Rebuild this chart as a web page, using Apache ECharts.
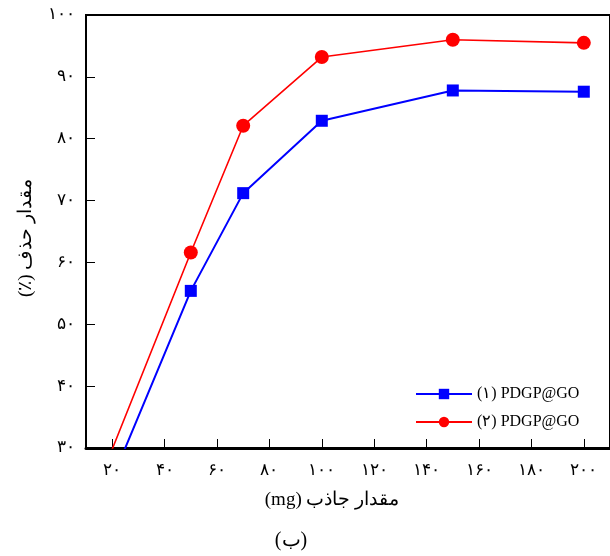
<!DOCTYPE html>
<html>
<head>
<meta charset="utf-8">
<script src="https://cdn.jsdelivr.net/npm/echarts@6/dist/echarts.min.js"></script>
<style>
  html, body { margin: 0; padding: 0; background: #fff; }
  #chart { width: 610px; height: 556px; }
</style>
</head>
<body>
<div id="chart"></div>
<script>
// Adsorbent dosage (mg) and removal efficiency (%) for the two PDGP@GO samples
const dosage = [10, 50, 70, 100, 150, 200];
const removal1 = [14.8, 55.4, 71.2, 82.9, 87.8, 87.6];
const removal2 = [19.2, 61.6, 82.1, 93.2, 96.0, 95.5];
const seriesNames = ['(۱) PDGP@GO', '(۲) PDGP@GO'];
const xTickValues = [20, 40, 60, 80, 100, 120, 140, 160, 180, 200];
const yTickValues = [30, 40, 50, 60, 70, 80, 90, 100];

const persianDigits = '۰۱۲۳۴۵۶۷۸۹';
const toPersian = v => String(v).replace(/[0-9]/g, d => persianDigits[+d]);
// right-to-left embedding so that Persian titles keep their parentheses on the correct side
const rtl = s => '\u202B' + s + '\u202C';

const serif = "'Liberation Serif', 'DejaVu Serif', 'Times New Roman', serif";

const chart = echarts.init(document.getElementById('chart'));
chart.setOption({
  animation: false,
  backgroundColor: '#fff',
  grid: {
    left: 86, right: -5, top: 15, bottom: 108,
    show: true, borderColor: '#000', borderWidth: 2, backgroundColor: 'transparent'
  },
  xAxis: {
    type: 'value', min: 10, max: 210,
    axisLine: { show: true, lineStyle: { color: '#000', width: 3 } },
    axisTick: { show: true, inside: true, length: 9, customValues: xTickValues,
                lineStyle: { color: '#000', width: 1 } },
    axisLabel: { customValues: xTickValues, margin: 14, color: '#000',
                 fontFamily: serif, fontSize: 17, formatter: v => toPersian(v) },
    splitLine: { show: false }
  },
  yAxis: {
    type: 'value', min: 30, max: 100, interval: 10,
    axisLine: { show: true, lineStyle: { color: '#000', width: 2 } },
    axisTick: { show: true, inside: true, length: 9, lineStyle: { color: '#000', width: 1 } },
    axisLabel: { margin: 11, color: '#000', fontFamily: serif, fontSize: 17,
                 formatter: v => yTickValues.includes(v) ? toPersian(v) : '' },
    splitLine: { show: false }
  },
  legend: {
    orient: 'vertical', left: 410, top: 381,
    itemWidth: 56, itemHeight: 13, itemGap: 12,
    textStyle: { fontFamily: serif, fontSize: 16, color: '#000' },
    data: seriesNames
  },
  graphic: [
    { type: 'text', x: 332, y: 500,
      style: { text: rtl('مقدار جاذب (mg)'), fontFamily: serif, fontSize: 19, fill: '#000',
               align: 'center', verticalAlign: 'middle' } },
    { type: 'text', x: 291, y: 541,
      style: { text: rtl('(ب)'), fontFamily: serif, fontSize: 20, fill: '#000',
               align: 'center', verticalAlign: 'middle' } },
    { type: 'text', x: 26, y: 238, rotation: Math.PI / 2,
      style: { text: rtl('مقدار حذف (٪)'), fontFamily: serif, fontSize: 19, fill: '#000',
               align: 'center', verticalAlign: 'middle' } }
  ],
  series: [
    {
      name: seriesNames[0], type: 'line', clip: true,
      data: dosage.map((d, i) => [d, removal1[i]]),
      symbol: 'rect', symbolSize: 12,
      lineStyle: { color: '#0000ff', width: 2 },
      itemStyle: { color: '#0000ff' }
    },
    {
      name: seriesNames[1], type: 'line', clip: true,
      data: dosage.map((d, i) => [d, removal2[i]]),
      symbol: 'circle', symbolSize: 14,
      lineStyle: { color: '#ff0000', width: 1.6 },
      itemStyle: { color: '#ff0000' }
    }
  ]
});
</script>
</body>
</html>
